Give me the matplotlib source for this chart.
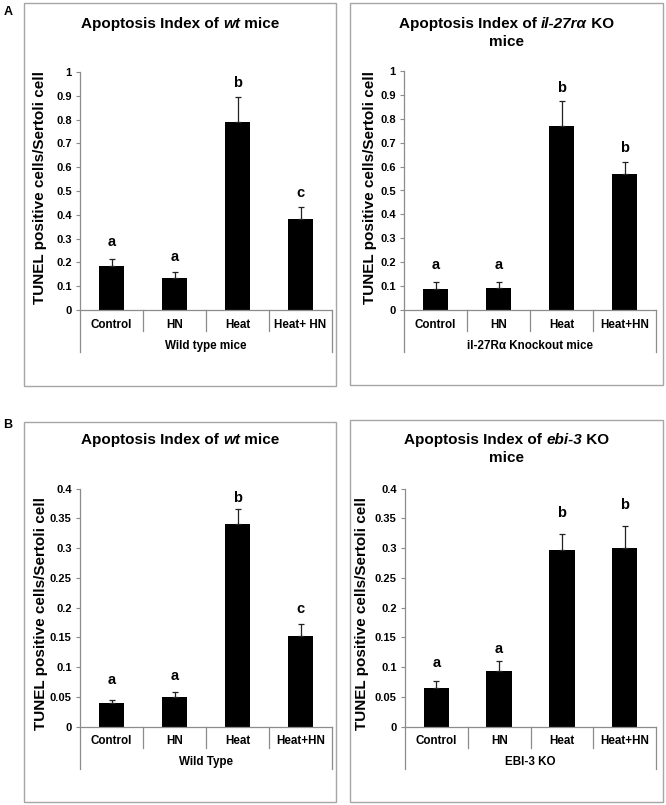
import matplotlib.pyplot as plt
from matplotlib.patches import Rectangle
from matplotlib.ticker import FuncFormatter, MultipleLocator

plt.rcParams['font.family'] = ['Liberation Sans', 'DejaVu Sans']
plt.rcParams['font.weight'] = 'bold'

W, H = 666, 805

groups = ['Control', 'HN', 'Heat', 'Heat+HN']
groups_a_wt = ['Control', 'HN', 'Heat', 'Heat+ HN']

# panel A: wild type / il-27ra KO
a_wt_mean = [0.186, 0.133, 0.790, 0.381]
a_wt_err = [0.030, 0.027, 0.103, 0.053]
a_wt_letters = ['a', 'a', 'b', 'c']

a_ko_mean = [0.087, 0.093, 0.770, 0.569]
a_ko_err = [0.031, 0.023, 0.103, 0.051]
a_ko_letters = ['a', 'a', 'b', 'b']

# panel B: wild type / ebi-3 KO
b_wt_mean = [0.039, 0.050, 0.340, 0.153]
b_wt_err = [0.006, 0.008, 0.026, 0.019]
b_wt_letters = ['a', 'a', 'b', 'c']

b_ko_mean = [0.0655, 0.094, 0.297, 0.300]
b_ko_err = [0.0115, 0.016, 0.027, 0.037]
b_ko_letters = ['a', 'a', 'b', 'b']

GRAY = '#8c8c8c'
YLABEL = 'TUNEL positive cells/Sertoli cell'


def fx(x):
    return x / W


def fy(y):
    return 1 - y / H


def rich_line(fig, xc, y, pieces, size):
    """Draw a line of text made of (text, style) pieces, centred at xc."""
    renderer = fig.canvas.get_renderer()
    texts = [fig.text(0, fy(y), s, fontsize=size, fontstyle=st,
                      ha='left', va='center') for s, st in pieces]
    widths = [t.get_window_extent(renderer).width for t in texts]
    x = xc - sum(widths) / 2
    for t, w in zip(texts, widths):
        t.set_x(fx(x))
        x += w


def draw_panel(fig, box, axpx, means, errs, letters, letter_off, labels,
               group_label, ymax, ystep, title, ylab_pos):
    bx0, by0, bx1, by1 = box
    fig.patches.append(Rectangle((fx(bx0), fy(by1)), (bx1 - bx0) / W,
                                 (by1 - by0) / H, transform=fig.transFigure,
                                 fill=False, edgecolor='#a6a6a6', lw=1.0))

    x0, x1, ytop, ybot = axpx
    ax = fig.add_axes([fx(x0), fy(ybot), (x1 - x0) / W, (ybot - ytop) / H])
    ax_h = ybot - ytop

    xs = list(range(len(means)))
    ax.bar(xs, means, width=0.41, color='black', zorder=2)
    ax.errorbar(xs, means, yerr=[[0] * len(errs), errs], fmt='none',
                ecolor='#222222', elinewidth=0.9, capsize=2.2,
                capthick=0.9, zorder=3)
    for x, m, e, lt, off in zip(xs, means, errs, letters, letter_off):
        ax.annotate(lt, (x, m + e), xytext=(0, off * 0.72),
                    textcoords='offset points', ha='center',
                    va='baseline', fontsize=10.5)

    ax.set_xlim(-0.5, len(means) - 0.5)
    ax.set_ylim(0, ymax)
    ax.yaxis.set_major_locator(MultipleLocator(ystep))
    ax.yaxis.set_major_formatter(FuncFormatter(lambda v, p: '%g' % round(v, 3)))
    ax.set_xticks([])
    ax.tick_params(axis='y', direction='out', length=3, width=0.8,
                   color=GRAY, pad=3, labelsize=8)
    for s in ['top', 'right']:
        ax.spines[s].set_visible(False)
    for s in ['left', 'bottom']:
        ax.spines[s].set_color(GRAY)
        ax.spines[s].set_linewidth(0.9)

    # two-level category axis
    tr = ax.get_xaxis_transform()
    n = len(means)
    for i in range(n + 1):
        depth = 42 if i in (0, n) else 21
        ax.plot([i - 0.5, i - 0.5], [0, -depth / ax_h], transform=tr,
                color=GRAY, lw=0.9, clip_on=False)
    for x, lab in zip(xs, labels):
        ax.text(x, -14.5 / ax_h, lab, transform=tr, ha='center',
                va='center', fontsize=8.4)
    ax.text((n - 1) / 2, -35.5 / ax_h, group_label, transform=tr,
            ha='center', va='center', fontsize=8.4)

    tx = (bx0 + bx1) / 2
    for ty, pieces in title:
        rich_line(fig, tx, ty, pieces, 11)

    fig.text(fx(ylab_pos[0]), fy(ylab_pos[1]), YLABEL, rotation=90,
             ha='center', va='center', fontsize=11)
    return ax


fig = plt.figure(figsize=(W / 100, H / 100), dpi=100)

fig.text(fx(8), fy(12), 'A', fontsize=9, ha='center', va='center')
fig.text(fx(8), fy(425), 'B', fontsize=9, ha='center', va='center')

draw_panel(fig, (24, 3, 336, 386), (80, 332, 72, 310),
           a_wt_mean, a_wt_err, a_wt_letters, [13, 11, 10.6, 9.7],
           groups_a_wt, 'Wild type mice', 1.0, 0.1,
           [(24, [('Apoptosis Index of ', 'normal'), ('wt', 'italic'),
                  (' mice', 'normal')])],
           (40, 187))

draw_panel(fig, (350, 3, 663, 385), (404, 656, 71, 310),
           a_ko_mean, a_ko_err, a_ko_letters, [12.3, 12.9, 9.6, 10],
           groups, 'il-27R\u03b1 Knockout mice', 1.0, 0.1,
           [(24, [('Apoptosis Index of ', 'normal'),
                  ('il-27r\u03b1', 'italic'), (' KO', 'normal')]),
            (42, [('mice', 'normal')])],
           (370, 187))

draw_panel(fig, (24, 422, 336, 802), (80, 332, 488.7, 726.7),
           b_wt_mean, b_wt_err, b_wt_letters, [15.6, 11.9, 7, 11.3],
           groups, 'Wild Type', 0.4, 0.05,
           [(440, [('Apoptosis Index of ', 'normal'), ('wt', 'italic'),
                   (' mice', 'normal')])],
           (41, 613))

draw_panel(fig, (350, 420, 663, 802), (405, 656, 488.7, 726.7),
           b_ko_mean, b_ko_err, b_ko_letters, [14, 8, 17, 16.7],
           groups, 'EBI-3 KO', 0.4, 0.05,
           [(440, [('Apoptosis Index of ', 'normal'),
                   ('ebi-3', 'italic'), (' KO', 'normal')]),
            (458, [('mice', 'normal')])],
           (362, 613))

fig.savefig('out.png', dpi=100)
